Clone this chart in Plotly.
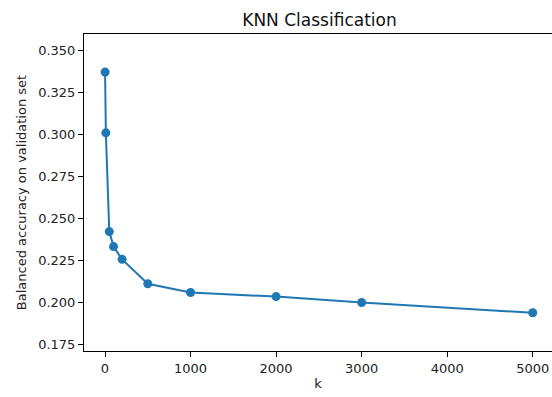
import plotly.graph_objects as go

# Number of neighbours tried and the resulting balanced accuracy
k_values = [1, 10, 50, 100, 200, 500, 1000, 2000, 3000, 5000]
balanced_accuracy = [0.3369, 0.3008, 0.2422, 0.2333, 0.2257, 0.2112, 0.2060, 0.2036, 0.2001, 0.1940]

x_ticks = [0, 1000, 2000, 3000, 4000, 5000]
y_ticks = [0.175, 0.200, 0.225, 0.250, 0.275, 0.300, 0.325, 0.350]

font_family = "DejaVu Sans"
blue = "#1f77b4"
text_color = "#222222"

fig = go.Figure(
    go.Scatter(
        x=k_values,
        y=balanced_accuracy,
        mode="lines+markers",
        line=dict(color=blue, width=2),
        marker=dict(color=blue, size=9),
        showlegend=False,
    )
)

axis_common = dict(
    showline=True,
    mirror=True,
    linecolor="black",
    linewidth=1,
    ticks="outside",
    ticklen=5,
    tickwidth=1,
    tickcolor="black",
    showgrid=False,
    zeroline=False,
    tickfont=dict(family=font_family, size=13, color=text_color),
)

fig.update_layout(
    width=552,
    height=397,
    margin=dict(l=84, r=0, t=34, b=46),
    paper_bgcolor="white",
    plot_bgcolor="white",
    title=dict(
        text="KNN Classification",
        x=319.5 / 552,
        xanchor="center",
        y=1 - 20 / 397,
        yanchor="middle",
        font=dict(family=font_family, size=17, color="#111111"),
    ),
    xaxis=dict(
        range=[-245.5, 5225],
        tickvals=x_ticks,
        ticktext=[str(v) for v in x_ticks],
        title=dict(text="k", font=dict(family=font_family, size=13, color=text_color), standoff=4),
        **axis_common,
    ),
    yaxis=dict(
        range=[0.1713, 0.3595],
        tickvals=y_ticks,
        ticktext=[f"{v:.3f}" for v in y_ticks],
        title=dict(
            text="Balanced accuracy on validation set",
            font=dict(family=font_family, size=13, color=text_color),
            standoff=8,
        ),
        **axis_common,
    ),
)

fig.write_html("out.html")
